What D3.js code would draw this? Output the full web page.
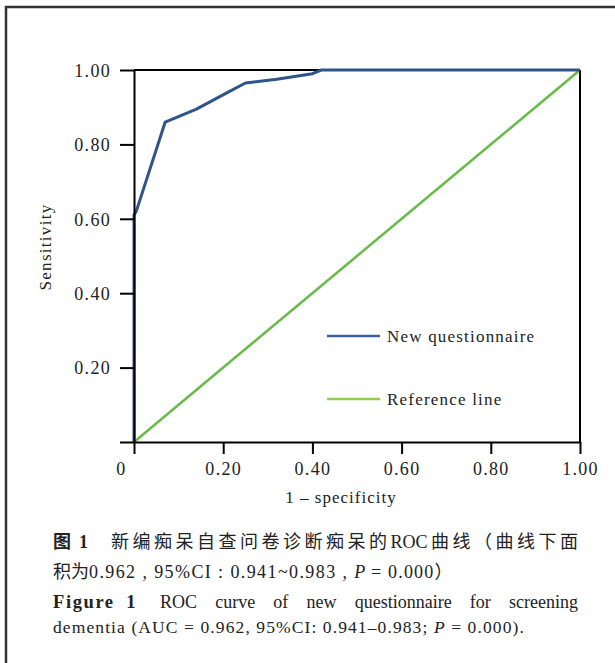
<!DOCTYPE html>
<html><head><meta charset="utf-8">
<script src="https://cdn.jsdelivr.net/npm/d3@7"></script>
<style>
html,body{margin:0;padding:0;background:#fff;}
svg{display:block;}
</style></head>
<body>
<svg id="chart" width="615" height="663"></svg>
<script>
// ---- data ----
const rocFpr = [0, 0, 0.005, 0.07, 0.14, 0.21, 0.25, 0.32, 0.40, 0.42, 1.0];
const rocTpr = [0, 0.61, 0.62, 0.86, 0.895, 0.94, 0.965, 0.975, 0.99, 1.0, 1.0];
const refFpr = [0, 1];
const refTpr = [0, 1];
const xTicks = [0, 0.2, 0.4, 0.6, 0.8, 1.0];
const xTickLabels = ["0", "0.20", "0.40", "0.60", "0.80", "1.00"];
const yTicks = [0, 0.2, 0.4, 0.6, 0.8, 1.0];
const yTickLabels = ["", "0.20", "0.40", "0.60", "0.80", "1.00"];
const seriesNames = ["New questionnaire", "Reference line"];
const seriesColors = ["#2f5487", "#66bb46"];

const svg = d3.select("#chart");
const serif = "'Liberation Serif','Times New Roman',serif";
const cjk = "'Liberation Serif','Noto Sans CJK SC',serif";

// outer frame
svg.append("rect").attr("x", 6).attr("y", 7).attr("width", 800).attr("height", 800)
  .attr("fill", "none").attr("stroke", "#333").attr("stroke-width", 2.5);

const L = 134, R = 580, T = 70, B = 442;
const x = d3.scaleLinear().domain([0, 1]).range([L, R]);
const y = d3.scaleLinear().domain([0, 1]).range([B, T]);

// reference line
const line = d3.line().x(d => x(d[0])).y(d => y(d[1]));
svg.append("path").datum(d3.zip(refFpr, refTpr)).attr("d", line)
  .attr("fill", "none").attr("stroke", seriesColors[1]).attr("stroke-width", 2.5);

// box top/right
svg.append("line").attr("x1", L).attr("x2", R).attr("y1", T).attr("y2", T).attr("stroke", "#000").attr("stroke-width", 2);
svg.append("line").attr("x1", R).attr("x2", R).attr("y1", T).attr("y2", B).attr("stroke", "#000").attr("stroke-width", 2);

// ROC
svg.append("path").datum(d3.zip(rocFpr, rocTpr)).attr("d", line)
  .attr("fill", "none").attr("stroke", seriesColors[0]).attr("stroke-width", 3).attr("stroke-linejoin", "round");

// axes
const xAxis = d3.axisBottom(x).tickValues(xTicks).tickFormat((d, i) => xTickLabels[i]).tickSizeInner(12).tickSizeOuter(0).tickPadding(3);
const gx = svg.append("g").attr("transform", `translate(0,${B})`).call(xAxis);
const yAxis = d3.axisLeft(y).tickValues(yTicks).tickFormat((d, i) => yTickLabels[i]).tickSizeInner(14).tickSizeOuter(0).tickPadding(9);
const gy = svg.append("g").attr("transform", `translate(${L},0)`).call(yAxis);
[gx, gy].forEach(g => {
  g.selectAll("path.domain").attr("stroke", "#000").attr("stroke-width", 2);
  g.selectAll(".tick line").attr("stroke", "#000").attr("stroke-width", 2);
  g.selectAll("text").attr("font-family", serif).attr("font-size", 18).attr("fill", "#222").style("letter-spacing", "1.3px");
});
gx.selectAll(".tick text").attr("dy", "1.0em").filter((d, i) => i === 0).attr("dx", -13);
gy.selectAll(".tick text").attr("dy", "0.35em");

// axis titles
svg.append("text").attr("x", 341).attr("y", 503).attr("text-anchor", "middle")
  .attr("font-family", serif).attr("font-size", 17).attr("fill", "#222").style("letter-spacing", "1px")
  .text("1 – specificity");
svg.append("text").attr("transform", "translate(51,247) rotate(-90)").attr("text-anchor", "middle")
  .attr("font-family", serif).attr("font-size", 17).attr("fill", "#222").style("letter-spacing", "1.3px")
  .text("Sensitivity");

// legend
const legY = [336, 399];
seriesNames.forEach((n, i) => {
  svg.append("line").attr("x1", 327).attr("x2", 380).attr("y1", legY[i]).attr("y2", legY[i])
    .attr("stroke", i === 0 ? "#3a5f9e" : "#8fd14f").attr("stroke-width", 2.5);
  svg.append("text").attr("x", 387).attr("y", legY[i] + 6).attr("font-family", serif).attr("font-size", 17)
    .attr("fill", "#222").style("letter-spacing", "1.2px").text(n);
});

// caption helper: justify words between x0 and x1
function justify(parts, x0, x1, yy, size, ls) {
  const t = svg.append("text").attr("y", yy).attr("font-size", size).attr("fill", "#222");
  if (ls) t.style("letter-spacing", ls + "px");
  const spans = parts.map(p => t.append("tspan").attr("font-family", p.f || serif)
    .attr("font-weight", p.b ? "bold" : null).attr("font-style", p.i ? "italic" : null).text(p.t));
  const widths = spans.map(s => s.node().getComputedTextLength());
  const total = d3.sum(widths);
  const gap = parts.length > 1 ? (x1 - x0 - total) / (parts.length - 1) : 0;
  let cx = x0;
  spans.forEach((s, i) => { s.attr("x", cx); cx += widths[i] + gap; });
}
function chars(str, f) { return Array.from(str).map(c => ({ t: c, f })); }

// line 1
justify([{ t: "图", f: "'Noto Sans CJK SC'", b: true }, { t: "1", b: true }], 53, 88, 548, 18);
justify([...chars("新编痴呆自查问卷诊断痴呆的", "'Noto Sans CJK SC'"), { t: "ROC" }, ...chars("曲线（曲线下面", "'Noto Sans CJK SC'")], 111, 578, 548, 18);
// line 2
const t2 = svg.append("text").attr("x", 53).attr("y", 578).attr("font-size", 18).attr("fill", "#222").attr("font-family", cjk);
t2.append("tspan").attr("font-family", "'Noto Sans CJK SC'").text("积为");
t2.append("tspan").style("letter-spacing", "1.4px").text("0.962 , 95%CI : 0.941~0.983 , ");
t2.append("tspan").attr("font-style", "italic").text("P");
t2.append("tspan").style("letter-spacing", "1.2px").text(" = 0.000");
t2.append("tspan").attr("font-family", "'Noto Sans CJK SC'").text("）");
// line 3
justify([{ t: "Figure", b: true }, { t: "1", b: true }], 53, 137, 608, 18.5, 1.6);
justify("ROC curve of new questionnaire for screening".split(" ").map(w => ({ t: w })), 160, 578, 608, 18);
// line 4
const t4 = svg.append("text").attr("x", 53).attr("y", 633).attr("font-size", 17.5).attr("fill", "#222")
  .attr("font-family", serif).style("letter-spacing", "1.1px");
t4.append("tspan").text("dementia (AUC = 0.962, 95%CI: 0.941–0.983; ");
t4.append("tspan").attr("font-style", "italic").text("P");
t4.append("tspan").text(" = 0.000).");
</script>
</body></html>
